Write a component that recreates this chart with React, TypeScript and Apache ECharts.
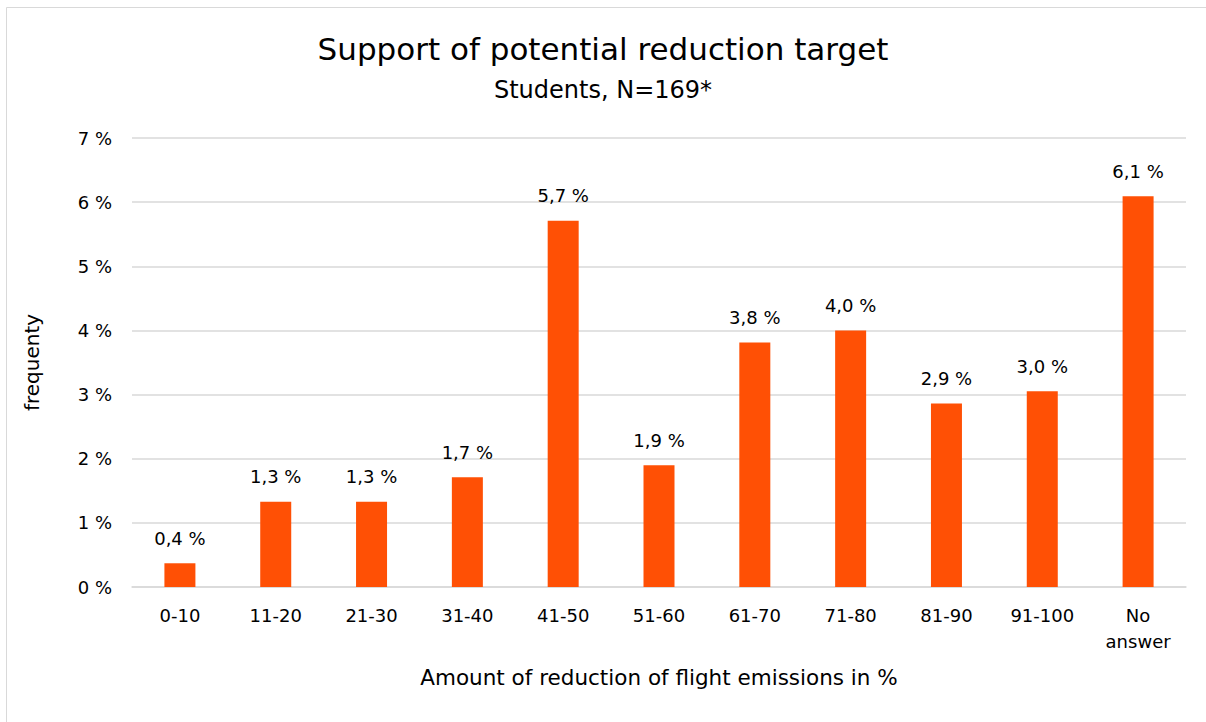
import React, { useEffect, useRef } from "react";
import * as echarts from "echarts";

const categories = ["0-10", "11-20", "21-30", "31-40", "41-50", "51-60", "61-70", "71-80", "81-90", "91-100", "No\nanswer"];
const values = [0.37, 1.33, 1.33, 1.71, 5.71, 1.9, 3.81, 4.0, 2.86, 3.05, 6.09];
const yTicks = [0, 1, 2, 3, 4, 5, 6, 7];

const FONT = "DejaVu Sans";

export default function App() {
  const ref = useRef<HTMLDivElement>(null);
  useEffect(() => {
    if (!ref.current) return;
    const chart = echarts.init(ref.current, null, { renderer: "svg" });
    chart.setOption({
      animation: false,
      backgroundColor: "#fff",
      textStyle: { fontFamily: FONT },
      graphic: [
        {
          type: "rect",
          shape: { x: 6.5, y: 7.5, width: 1220, height: 740 },
          style: { fill: "none", stroke: "#d9d9d9", lineWidth: 1 },
          silent: true,
        },
      ],
      title: [
        {
          text: "Support of potential reduction target",
          left: "center",
          top: 28,
          textStyle: { fontFamily: FONT, fontSize: 31, fontWeight: "normal", color: "#000" },
        },
        {
          text: "Students, N=169*",
          left: "center",
          top: 73,
          textStyle: { fontFamily: FONT, fontSize: 24, fontWeight: "normal", color: "#000" },
        },
      ],
      grid: { left: 132, right: 20, top: 138, bottom: 135 },
      xAxis: {
        type: "category",
        data: categories,
        name: "Amount of reduction of flight emissions in %",
        nameLocation: "middle",
        nameGap: 79,
        nameTextStyle: { fontFamily: FONT, fontSize: 21.5, color: "#000" },
        axisLine: { lineStyle: { color: "#d9d9d9", width: 1.5 } },
        axisTick: { show: false },
        axisLabel: { fontFamily: FONT, fontSize: 18, color: "#000", margin: 15, lineHeight: 26, interval: 0 },
      },
      yAxis: {
        type: "value",
        min: 0,
        max: 7,
        interval: 1,
        name: "frequenty",
        nameLocation: "middle",
        nameGap: 90,
        nameTextStyle: { fontFamily: FONT, fontSize: 20, color: "#000" },
        axisLine: { show: false },
        axisTick: { show: false },
        splitLine: { lineStyle: { color: "#d9d9d9", width: 1.5 } },
        axisLabel: {
          fontFamily: FONT,
          fontSize: 18,
          color: "#000",
          margin: 20,
          formatter: (v: number) => (yTicks.includes(v) ? `${v} %` : ""),
        },
      },
      series: [
        {
          type: "bar",
          data: values,
          barWidth: 31,
          itemStyle: { color: "#FF5005" },
          label: {
            show: true,
            position: "top",
            distance: 16,
            fontFamily: FONT,
            fontSize: 18,
            color: "#000",
            formatter: (p: any) => `${(p.value as number).toFixed(1).replace(".", ",")} %`,
          },
        },
      ],
    });
    return () => chart.dispose();
  }, []);
  return <div ref={ref} style={{ position: "fixed", left: 0, top: 0, width: 1206, height: 722 }} />;
}
